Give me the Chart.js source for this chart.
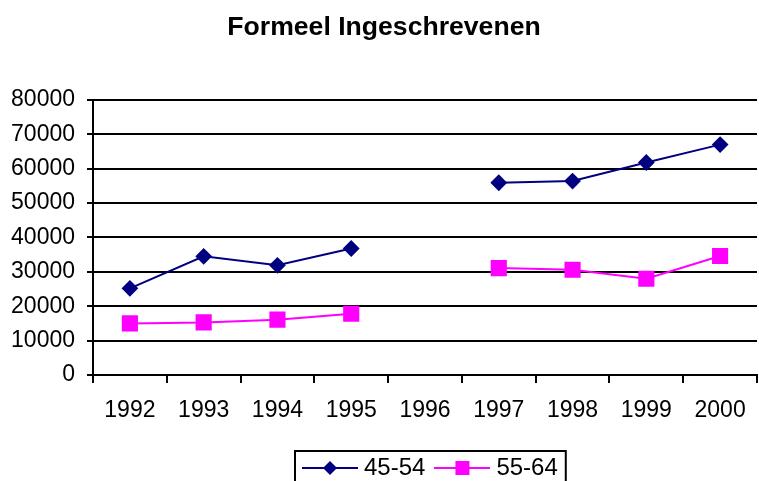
<!DOCTYPE html>
<html>
<head>
<meta charset="utf-8">
<script src="https://cdn.jsdelivr.net/npm/chart.js@4/dist/chart.umd.min.js"></script>
<style>
html,body{margin:0;padding:0;background:#fff;}
#wrap{width:759px;height:481px;position:relative;}
</style>
</head>
<body>
<div id="wrap"><canvas id="c" width="759" height="481"></canvas></div>
<script>
const categories = ['1992','1993','1994','1995','1996','1997','1998','1999','2000'];
const series4554 = [25200, 34500, 31900, 36800, null, 55900, 56400, 61800, 67000];
const series5564 = [15000, 15300, 16100, 17800, null, 31100, 30600, 28000, 34600];
const seriesNames = ['45-54', '55-64'];
const titleText = 'Formeel Ingeschrevenen';

const NAVY = '#000080';
const MAGENTA = '#FF00FF';
const FONT = 'Liberation Sans, Arial, sans-serif';
const PLOT_RIGHT = 757;

function legendIcon(color, shape) {
  const c = document.createElement('canvas');
  c.width = 56; c.height = 18;
  const g = c.getContext('2d');
  g.strokeStyle = color; g.lineWidth = 2;
  g.beginPath(); g.moveTo(0, 9); g.lineTo(56, 9); g.stroke();
  g.fillStyle = color;
  if (shape === 'diamond') {
    g.beginPath(); g.moveTo(28, 2); g.lineTo(35, 9); g.lineTo(28, 16); g.lineTo(21, 9); g.closePath(); g.fill();
  } else {
    g.fillRect(21, 2, 14, 14);
  }
  return c;
}
const icons = [legendIcon(NAVY, 'diamond'), legendIcon(MAGENTA, 'square')];

// Stretch the plot area to the right edge used by the reference.
const plotRight = {
  id: 'plotRight',
  afterLayout(chart) {
    const ca = chart.chartArea;
    ca.right = PLOT_RIGHT; ca.width = ca.right - ca.left;
    const xs = chart.scales.x;
    xs.right = PLOT_RIGHT; xs.width = xs.right - xs.left;
    xs.configure();
    const ys = chart.scales.y;
    ys.configure();
  }
};

// Move the legend to where the reference places it and draw its frame.
const legendPlace = {
  id: 'legendPlace',
  afterUpdate(chart) {
    const lg = chart.legend;
    if (!lg || !lg.legendHitBoxes || !lg.legendHitBoxes.length) return;
    const hb = lg.legendHitBoxes;
    const dx = 308 - hb[0].left;
    const dy = 456 - hb[0].top;
    lg.left += dx; lg.right += dx; lg.top += dy; lg.bottom += dy;
    hb.forEach(b => { b.left += dx; b.top += dy; });
  },
  afterDraw(chart) {
    const lg = chart.legend;
    if (!lg || !lg.legendHitBoxes || !lg.legendHitBoxes.length) return;
    const hb = lg.legendHitBoxes;
    const last = hb[hb.length - 1];
    const x0 = hb[0].left - 13;
    const x1 = last.left + last.width + 8;
    const y0 = hb[0].top - 5;
    const ctx = chart.ctx;
    ctx.save();
    ctx.strokeStyle = '#000';
    ctx.lineWidth = 2;
    ctx.strokeRect(x0, y0, x1 - x0, 60);
    ctx.restore();
  }
};

new Chart(document.getElementById('c'), {
  type: 'line',
  data: {
    labels: categories,
    datasets: [
      {
        label: seriesNames[0], data: series4554,
        borderColor: NAVY, backgroundColor: NAVY, borderWidth: 2,
        pointStyle: 'rectRot', pointRadius: 7, pointHoverRadius: 7,
        spanGaps: false, tension: 0
      },
      {
        label: seriesNames[1], data: series5564,
        borderColor: MAGENTA, backgroundColor: MAGENTA, borderWidth: 2,
        pointStyle: 'rect', pointRadius: 10, pointHoverRadius: 10,
        spanGaps: false, tension: 0
      }
    ]
  },
  options: {
    responsive: false,
    animation: false,
    devicePixelRatio: 1,
    layout: { padding: { left: 11, right: 2, top: 0, bottom: 0 } },
    plugins: {
      title: {
        display: true, text: titleText, color: '#000',
        font: { family: FONT, size: 26.6, weight: 'bold' },
        padding: { top: 12, bottom: 56 }
      },
      legend: {
        position: 'bottom',
        labels: {
          usePointStyle: true, pointStyleWidth: 44,
          color: '#000',
          font: { family: FONT, size: 24 },
          padding: 15,
          generateLabels(chart) {
            return chart.data.datasets.map((ds, i) => ({
              text: ds.label, pointStyle: icons[i], fillStyle: ds.borderColor,
              strokeStyle: ds.borderColor, lineWidth: 0, datasetIndex: i, fontColor: '#000'
            }));
          }
        }
      },
      tooltip: { enabled: false }
    },
    scales: {
      x: {
        offset: true,
        afterFit(scale) { scale.height = 57; },
        grid: { offset: true, drawOnChartArea: false, drawTicks: true, tickLength: 8, color: '#000', lineWidth: 2 },
        border: { color: '#000', width: 2 },
        ticks: { color: '#000', font: { family: FONT, size: 23 }, padding: 14, maxRotation: 0, autoSkip: false }
      },
      y: {
        min: 0, max: 80000,
        afterFit(scale) { scale.width = 82; },
        ticks: {
          stepSize: 10000, color: '#000', font: { family: FONT, size: 23 }, padding: 12,
          callback: (v) => String(v)
        },
        grid: { color: '#000', lineWidth: 2, drawTicks: true, tickLength: 6 },
        border: { color: '#000', width: 2 }
      }
    }
  },
  plugins: [plotRight, legendPlace]
});
</script>
</body>
</html>
